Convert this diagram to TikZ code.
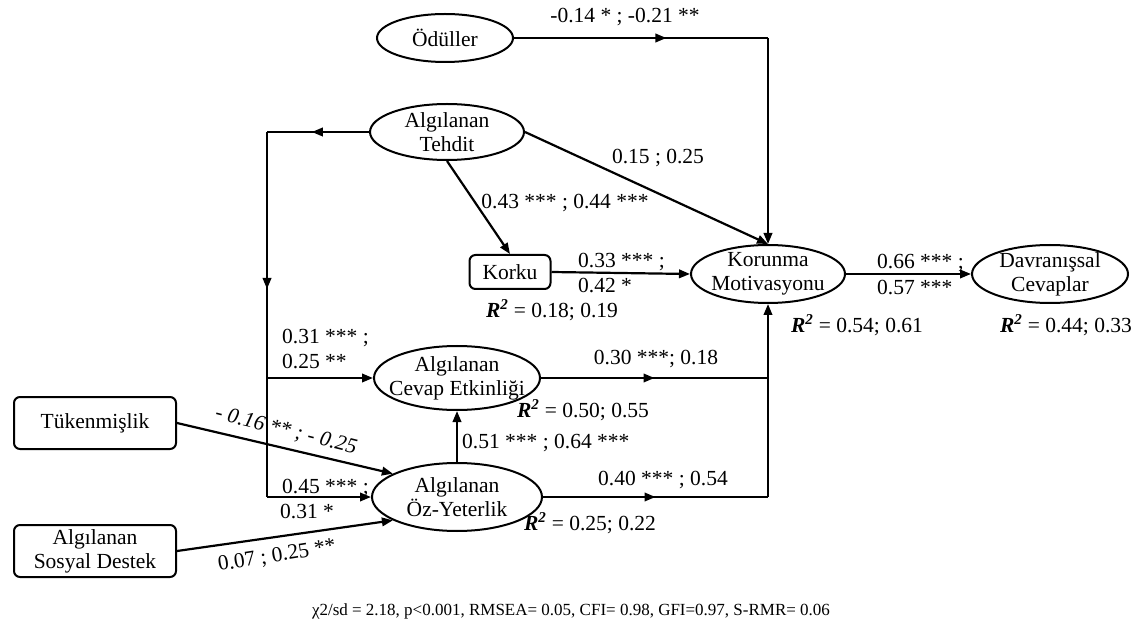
\documentclass[tikz,border=0pt]{standalone}
\usepackage{fontspec}
\setmainfont{Liberation Serif}
\usetikzlibrary{shapes.geometric,arrows.meta,decorations.markings}
\newcommand\Rsq{\textbf{\textit{R}}\textsuperscript{\textbf{\textit{2}}}}
\begin{document}
\begin{tikzpicture}[x=1pt,y=-1pt,
  font=\fontsize{21.5}{24}\selectfont,
  conn/.style={line width=2.2pt},
  tip/.style={-{Triangle[length=11pt,width=8.5pt]}},
  midarrow/.style={postaction={decorate},decoration={markings,
    mark=at position #1 with {\arrow{Triangle[length=11pt,width=8.5pt]}}}},
  oval/.style={ellipse,draw,line width=2pt,inner sep=0pt},
  box/.style={rectangle,rounded corners=6pt,draw,line width=2pt,inner sep=0pt},
  txt/.style={align=center,inner sep=0pt},
  coef/.style={inner sep=0pt},
]
\useasboundingbox (0,0) rectangle (1138,636);

% constructs
\node[oval,minimum width=136pt,minimum height=48pt] (odul) at (445,38) {};
\node[txt] (odul-t) at (odul) {Ödüller};
\node[oval,minimum width=154pt,minimum height=56pt] (tehdit) at (447,132) {};
\node[txt] (tehdit-t) at (tehdit) {Algılanan\\Tehdit};
\node[box,minimum width=81pt,minimum height=34pt] (korku) at (510,272) {Korku};
\node[oval,minimum width=154pt,minimum height=58pt] (korunma) at (768,274) {};
\node[txt] (korunma-t) at (korunma) {Korunma\\Motivasyonu};
\node[oval,minimum width=156pt,minimum height=58pt] (davran) at (1050,274) {};
\node[txt] (davran-t) at (davran) {Davranışsal\\Cevaplar};
\node[oval,minimum width=166pt,minimum height=64pt] (cevap) at (457,378) {};
\node[txt] (cevap-t) at (cevap) {Algılanan\\Cevap Etkinliği};
\node[oval,minimum width=170pt,minimum height=68pt] (oz) at (457,497) {};
\node[txt] (oz-t) at (oz) {Algılanan\\Öz-Yeterlik};
\node[box,minimum width=162pt,minimum height=52pt] (tuken) at (95,423) {Tükenmişlik};
\node[box,minimum width=162pt,minimum height=52pt,align=center] (sosyal) at (95,551) {Algılanan\\Sosyal Destek};

% junction points
\coordinate (c1) at (korunma.north |- odul.east);
\coordinate (tl) at (267,132);
\coordinate (tb1) at (tl |- cevap.west);
\coordinate (tb2) at (tl |- oz.west);
\coordinate (kr1) at (korunma.south |- cevap.east);
\coordinate (kr2) at (korunma.south |- oz.east);

% paths
\draw[conn,midarrow=0.6] (odul.east) -- (c1);
\draw[conn,tip] (c1) -- (korunma.north);
\draw[conn,tip] (tehdit.east) -- (korunma.north);
\draw[conn,tip] (tehdit.south) -- (korku.north);
\draw[conn,tip] (korku.east) -- (korunma.west);
\draw[conn,tip] (korunma.east) -- (davran.west);
\draw[conn,midarrow=0.56] (tehdit.west) -- (tl);
\draw[conn,midarrow=0.43] (tl) -- (tb2);
\draw[conn,tip] (tb1) -- (cevap.west);
\draw[conn,tip] (tb2) -- (oz.west);
\draw[conn,midarrow=0.5] (cevap.east) -- (kr1);
\draw[conn,midarrow=0.5] (oz.east) -- (kr2);
\draw[conn,tip] (kr2) -- (korunma.south);
\draw[conn,tip] (oz.north) -- (cevap.south);
\draw[conn,tip] (tuken.east) -- (oz.160);
\draw[conn,tip] (sosyal.east) -- (oz.200);

% coefficients
\node[coef] (l-odul) at (625,17) {-0.14 * ; -0.21 **};
\node[coef] (l-tk) at (658,158) {0.15 ; 0.25};
\node[coef] (l-tko) at (565,203) {0.43 *** ; 0.44 ***};
\node[coef,anchor=west] (l-kk1) at (578,262) {0.33 *** ;};
\node[coef,anchor=west] (l-kk2) at (578,286) {0.42 *};
\node[coef] (r-korku) at (552,310) {\Rsq{} = 0.18; 0.19};
\node[coef,anchor=west] (l-kd1) at (877,263) {0.66 *** ;};
\node[coef,anchor=west] (l-kd2) at (877,288) {0.57 ***};
\node[coef] (r-korunma) at (857,325) {\Rsq{} = 0.54; 0.61};
\node[coef] (r-davran) at (1066,325) {\Rsq{} = 0.44; 0.33};
\node[coef,anchor=west] (l-tc1) at (282,338) {0.31 *** ;};
\node[coef,anchor=west] (l-tc2) at (282,362) {0.25 **};
\node[coef] (l-ck) at (656,359) {0.30 ***; 0.18};
\node[coef] (r-cevap) at (583,410) {\Rsq{} = 0.50; 0.55};
\node[coef,anchor=west] (l-oc) at (462,443) {0.51 *** ; 0.64 ***};
\node[coef] (l-ok) at (663,480) {0.40 *** ; 0.54};
\node[coef] (r-oz) at (590,523) {\Rsq{} = 0.25; 0.22};
\node[coef,anchor=west] (l-to1) at (282,488) {0.45 *** ;};
\node[coef,anchor=west] (l-to2) at (280,512) {0.31 *};
\node[coef,rotate=-14,font=\fontsize{21.5}{24}\selectfont\itshape] (l-tuk) at (286,431) {- 0.16 ** ; - 0.25};
\node[coef,rotate=9] (l-sos) at (277,556) {0.07 ; 0.25 **};

% fit indices
\node[coef,font=\fontsize{17}{20}\selectfont] (fit) at (571,611)
  {χ2/sd = 2.18, p<0.001, RMSEA= 0.05, CFI= 0.98, GFI=0.97, S-RMR= 0.06};
\end{tikzpicture}
\end{document}
